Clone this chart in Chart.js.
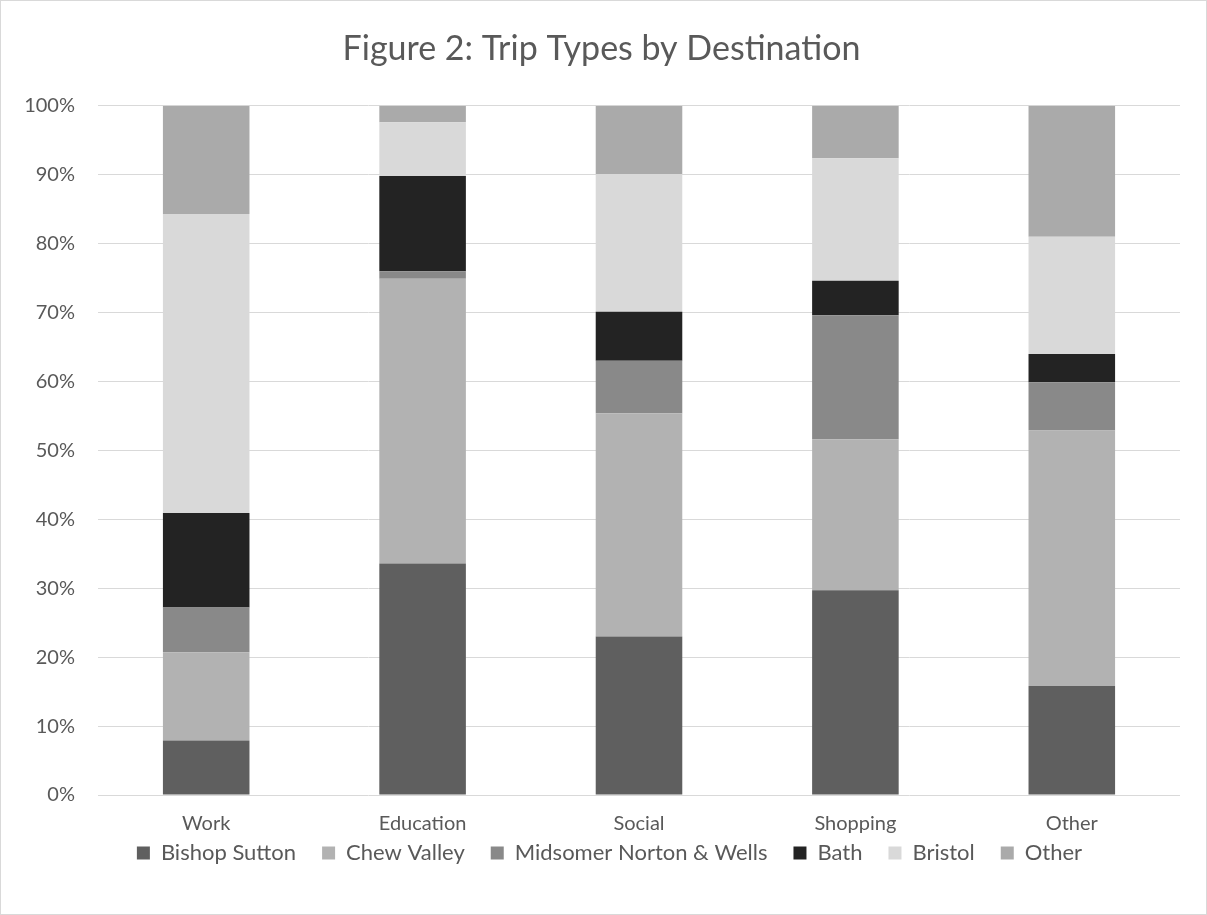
<!DOCTYPE html>
<html>
<head>
<meta charset="utf-8">
<script src="https://cdn.jsdelivr.net/npm/chart.js@4"></script>
<style>
  html, body { margin: 0; padding: 0; background: #fff; }
  #wrap { position: absolute; left: 0; top: 0; width: 1205px; height: 913px; border: 1px solid #d9d9d9; }
</style>
</head>
<body>
<div id="wrap"><canvas id="chart"></canvas></div>
<script>
const categories = ['Work', 'Education', 'Social', 'Shopping', 'Other'];

const bishopSutton = [7.9, 33.6, 23.0, 29.7, 15.8];
const chewValley   = [12.8, 41.3, 32.4, 21.9, 37.1];
const midsomer     = [6.5, 1.1, 7.6, 18.0, 7.0];
const bath         = [13.7, 13.8, 7.1, 5.0, 4.1];
const bristol      = [43.4, 7.8, 20.0, 17.8, 17.0];
const otherDest    = [15.7, 2.4, 9.9, 7.6, 19.0];

const seriesNames = ['Bishop Sutton', 'Chew Valley', 'Midsomer Norton & Wells', 'Bath', 'Bristol', 'Other'];
const seriesData = [bishopSutton, chewValley, midsomer, bath, bristol, otherDest];
const seriesColors = ['#5f5f5f', '#b2b2b2', '#898989', '#232323', '#d9d9d9', '#aaaaaa'];

const FONT = 'Lato, "Open Sans", sans-serif';
const TEXT = '#595959';

// legend padding is large to space the items out; pull it up so it sits close under the axis
const liftLegend = {
  id: 'liftLegend',
  afterLayout(chart) {
    const lg = chart.legend;
    lg.top -= 29;
    lg.bottom -= 29;
    lg.left += 8;
    lg.right += 8;
  }
};

new Chart(document.getElementById('chart'), {
  type: 'bar',
  data: {
    labels: categories,
    datasets: seriesNames.map((name, i) => ({
      label: name,
      data: seriesData[i],
      backgroundColor: seriesColors[i],
      borderWidth: 0,
      categoryPercentage: 1,
      barPercentage: 0.4
    }))
  },
  options: {
    responsive: true,
    maintainAspectRatio: false,
    animation: { duration: 0 },
    layout: { padding: { left: 22, right: 26, top: 12, bottom: 11 } },
    scales: {
      x: {
        stacked: true,
        grid: { display: false },
        border: { display: false },
        ticks: { color: TEXT, font: { family: FONT, size: 20 }, padding: 9 }
      },
      y: {
        stacked: true,
        min: 0,
        max: 100,
        ticks: {
          stepSize: 10,
          color: TEXT,
          padding: 23,
          font: { family: FONT, size: 20 },
          callback: v => v + '%'
        },
        grid: { color: '#d9d9d9', lineWidth: 1, drawTicks: false },
        border: { display: false },
        afterFit: s => { s.width = 75; }
      }
    },
    plugins: {
      title: {
        display: true,
        text: 'Figure 2: Trip Types by Destination',
        color: TEXT,
        font: { family: FONT, size: 34, weight: 'normal' },
        padding: { top: 16, bottom: 36 }
      },
      legend: {
        position: 'bottom',
        labels: {
          color: TEXT,
          font: { family: FONT, size: 22 },
          boxWidth: 13,
          boxHeight: 13,
          padding: 26
        }
      },
      tooltip: { enabled: false }
    }
  },
  plugins: [liftLegend]
});
</script>
</body>
</html>
